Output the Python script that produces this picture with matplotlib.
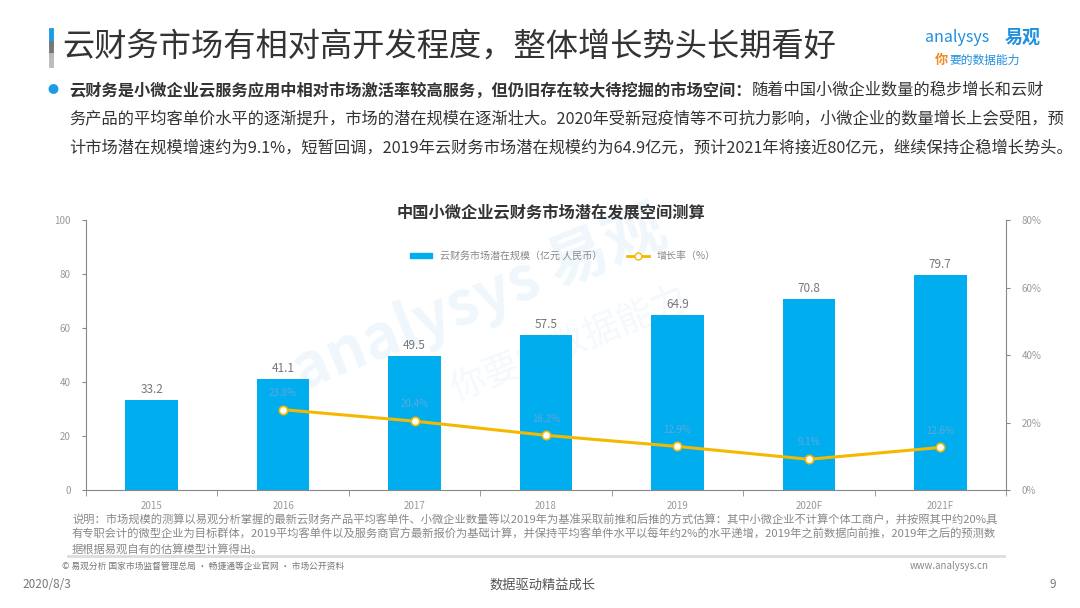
import matplotlib.pyplot as plt
from matplotlib.lines import Line2D
from matplotlib.patches import Patch

plt.rcParams['font.family'] = ['Noto Sans CJK SC', 'DejaVu Sans']

years = ['2015', '2016', '2017', '2018', '2019', '2020F', '2021F']
market_size = [33.2, 41.1, 49.5, 57.5, 64.9, 70.8, 79.7]
growth_years = ['2016', '2017', '2018', '2019', '2020F', '2021F']
growth_rate = [23.8, 20.4, 16.2, 12.9, 9.1, 12.6]

BLUE = '#00aeef'
YELLOW = '#f5b800'
GRAY = '#999999'

fig = plt.figure(figsize=(10.8, 6.08), dpi=100)
W, H = 1080, 608

def fx(px):
    return px / W

def fy(py):
    return 1 - py / H

# header bar (blue / dark gray / light gray)
fig.add_artist(plt.Line2D([fx(51), fx(51)], [fy(30), fy(43)], color='#1e9be6', lw=3.5))
fig.add_artist(plt.Line2D([fx(51), fx(51)], [fy(43), fy(55)], color='#777777', lw=3.5))
fig.add_artist(plt.Line2D([fx(51), fx(51)], [fy(55), fy(65)], color='#bbbbbb', lw=3.5))
fig.text(fx(62), fy(48), '云财务市场有相对高开发程度，整体增长势头长期看好', fontsize=23.2,
         fontweight='medium', color='#333333', va='center')
fig.text(fx(925), fy(37), 'analysys', fontsize=11.5, color='#1f8fe0', va='center')
fig.text(fx(1005), fy(37), '易观', fontsize=13, color='#1f8fe0', va='center', fontweight='bold')
fig.text(fx(935), fy(60), '你', fontsize=9.5, color='#f08a24', va='center', style='italic',
         fontweight='bold')
fig.text(fx(949), fy(60), '要的数据能力', fontsize=8.5, color='#1f8fe0', va='center', style='italic')

# bullet paragraph
fig.text(fx(53), fy(90), '●', fontsize=8, color='#1e9be6', va='center', ha='center')
bold_part = '云财务是小微企业云服务应用中相对市场激活率较高服务，但仍旧存在较大待挖掘的市场空间：'
t1 = fig.text(fx(69), fy(90), bold_part, fontsize=11.7, fontweight='bold', color='#333333', va='center')
fig.canvas.draw()
bb = t1.get_window_extent(renderer=fig.canvas.get_renderer())
fig.text(bb.x1 / W, fy(90), '随着中国小微企业数量的稳步增长和云财', fontsize=11.7,
         color='#333333', va='center')
fig.text(fx(69), fy(119), '务产品的平均客单价水平的逐渐提升，市场的潜在规模在逐渐壮大。2020年受新冠疫情等不可抗力影响，小微企业的数量增长上会受阻，预',
         fontsize=11.7, color='#333333', va='center')
fig.text(fx(69), fy(148), '计市场潜在规模增速约为9.1%，短暂回调，2019年云财务市场潜在规模约为64.9亿元，预计2021年将接近80亿元，继续保持企稳增长势头。',
         fontsize=11.7, color='#333333', va='center')

# watermark
fig.text(fx(480), fy(300), 'analysys 易观', fontsize=44, color='#2a93d5', alpha=0.07,
         rotation=22, ha='center', va='center', fontweight='bold')
fig.text(fx(570), fy(345), '你要的数据能力', fontsize=26, color='#2a93d5', alpha=0.06,
         rotation=22, ha='center', va='center')

# chart
ax = fig.add_axes([fx(86), fy(490), fx(1006) - fx(86), fy(220) - fy(490)])
x = list(range(len(years)))
ax.bar(x, market_size, width=0.4, color=BLUE, zorder=2)
for xi, v in zip(x, market_size):
    ax.text(xi, v + 1.5, f'{v:.1f}', ha='center', va='bottom', fontsize=8.5, color='#777777')
ax.set_xlim(-0.5, len(years) - 0.5)
ax.set_ylim(0, 100)
ax.set_yticks(range(0, 101, 20))
ax.set_xticks(x)
ax.set_xticklabels(years)
ax.set_xticks([i + 0.5 for i in range(-1, len(years))], minor=True)
ax.tick_params(axis='x', which='major', length=0, labelsize=7, colors=GRAY, pad=8)
ax.tick_params(axis='x', which='minor', length=4, color='#888888', direction='out')
ax.tick_params(axis='y', length=3, labelsize=7, colors=GRAY, color='#888888', pad=8)
for s in ['top', 'right']:
    ax.spines[s].set_visible(False)
for s in ['left', 'bottom']:
    ax.spines[s].set_color('#888888')
    ax.spines[s].set_linewidth(0.8)

ax2 = ax.twinx()
gx = [years.index(y) for y in growth_years]
ax2.plot(gx, growth_rate, color=YELLOW, lw=2.2, marker='o', markersize=6,
         markerfacecolor='white', markeredgecolor=YELLOW, markeredgewidth=1.2, zorder=3)
for xi, v in zip(gx, growth_rate):
    ax2.text(xi, v + 3.5, f'{v:.1f}%', ha='center', va='bottom', fontsize=7, color='#62a6d8')
ax2.set_ylim(0, 80)
ax2.set_yticks(range(0, 81, 20))
ax2.set_yticklabels([f'{v}%' for v in range(0, 81, 20)])
ax2.tick_params(axis='y', length=3, labelsize=7, colors=GRAY, color='#888888', pad=8)
for s in ['top', 'left', 'bottom']:
    ax2.spines[s].set_visible(False)
ax2.spines['right'].set_color('#888888')
ax2.spines['right'].set_linewidth(0.8)

fig.text(fx(551), fy(213), '中国小微企业云财务市场潜在发展空间测算', fontsize=11.7, fontweight='bold',
         color='#333333', ha='center', va='center')
handles = [Patch(color=BLUE),
           Line2D([0], [0], color=YELLOW, lw=2, marker='o', markersize=5,
                  markerfacecolor='white', markeredgecolor=YELLOW)]
fig.legend(handles, ['云财务市场潜在规模（亿元 人民币）', '增长率（%）'], loc='center',
           bbox_to_anchor=(fx(563), fy(256)), ncol=2, frameon=False, fontsize=7.2,
           labelcolor='#888888', handlelength=2.2, handleheight=0.5, columnspacing=2.5)

# notes
notes = ['说明：市场规模的测算以易观分析掌握的最新云财务产品平均客单件、小微企业数量等以2019年为基准采取前推和后推的方式估算：其中小微企业不计算个体工商户，并按照其中约20%具',
         '有专职会计的微型企业为目标群体，2019平均客单件以及服务商官方最新报价为基础计算，并保持平均客单件水平以每年约2%的水平递增，2019年之前数据向前推，2019年之后的预测数',
         '据根据易观自有的估算模型计算得出。']
for i, line in enumerate(notes):
    fig.text(fx(72), fy(520 + i * 14.5), line, fontsize=8.1, color='#888888', va='center')
fig.add_artist(plt.Line2D([fx(68), fx(1004)], [fy(556), fy(556)], color='#dddddd', lw=2))
fig.text(fx(62), fy(566), '© 易观分析 国家市场监督管理总局 · 畅捷通等企业官网 · 市场公开资料', fontsize=6.3,
         color='#777777', va='center')
fig.text(fx(989), fy(566), 'www.analysys.cn', fontsize=7, color='#888888', va='center', ha='right')

# footer
fig.text(fx(22), fy(585), '2020/8/3', fontsize=8.5, color='#777777', va='center')
fig.text(fx(542), fy(585), '数据驱动精益成长', fontsize=9.5, color='#555555', va='center', ha='center')
fig.text(fx(1050), fy(585), '9', fontsize=8.5, color='#777777', va='center')

fig.savefig('out.png', dpi=100)
